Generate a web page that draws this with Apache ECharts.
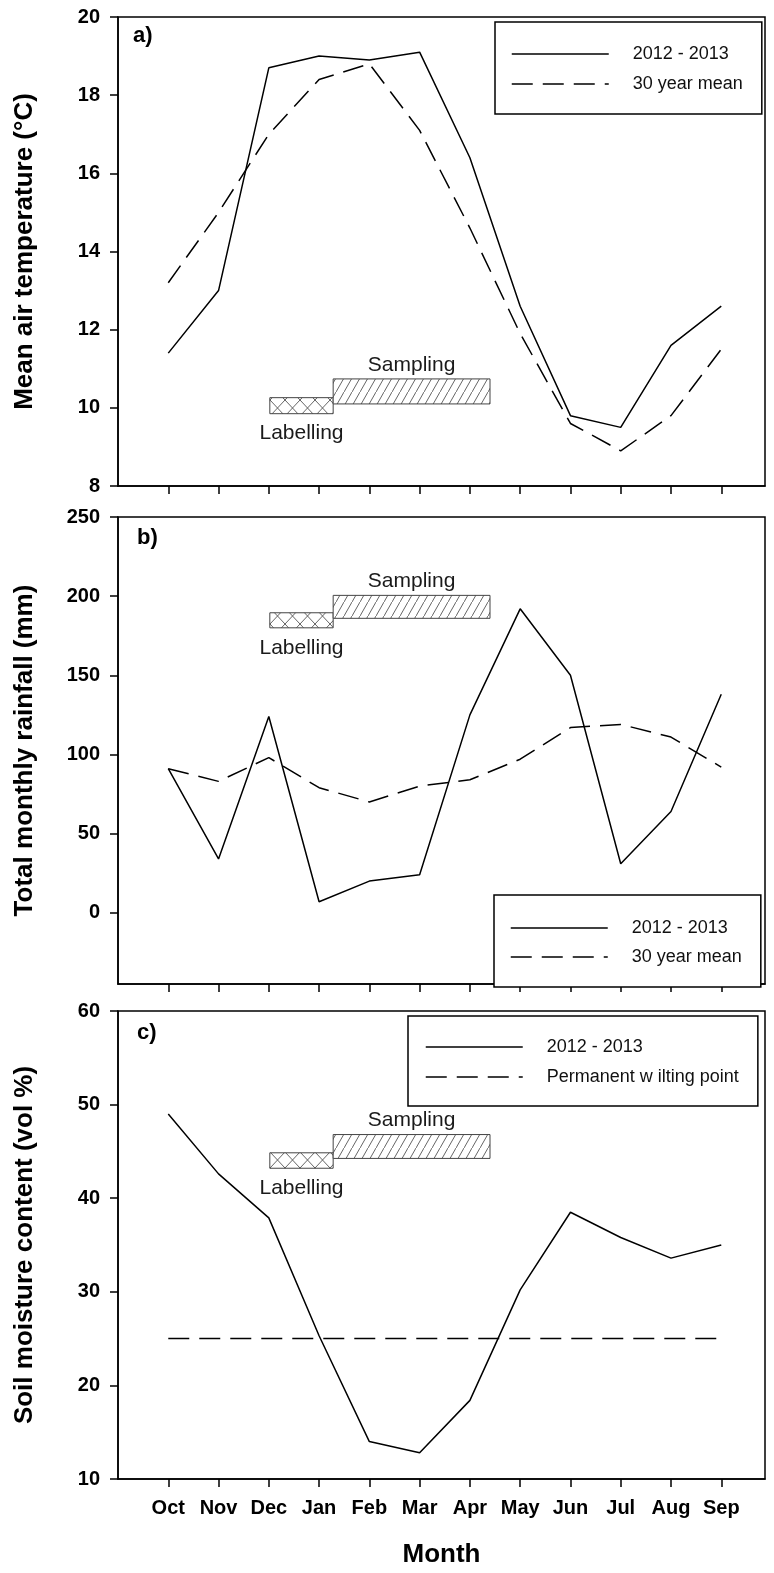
<!DOCTYPE html>
<html>
<head>
<meta charset="utf-8">
<title>Climate and soil moisture 2012 - 2013</title>
<script src="https://cdn.jsdelivr.net/npm/echarts@6/dist/echarts.min.js"></script>
<style>
  html, body { margin: 0; padding: 0; background: #fff; }
  #chart { width: 774px; height: 1573px; }
</style>
</head>
<body>
<div id="chart"></div>
<script>
// Month categories and their positions on the shared x scale
const months = ['Oct', 'Nov', 'Dec', 'Jan', 'Feb', 'Mar', 'Apr', 'May', 'Jun', 'Jul', 'Aug', 'Sep'];
const monthPos = [1, 2, 3, 4, 5, 6, 7, 8, 9, 10, 11, 12];

// a) Mean air temperature (°C)
const temp2012 = [11.4, 13.0, 18.7, 19.0, 18.9, 19.1, 16.4, 12.6, 9.8, 9.5, 11.6, 12.6];
const temp30yr = [13.2, 15.0, 17.0, 18.4, 18.8, 17.1, 14.6, 11.9, 9.6, 8.9, 9.8, 11.5];

// b) Total monthly rainfall (mm)
const rain2012 = [91, 34, 124, 7, 20, 24, 125, 192, 150, 31, 64, 138];
const rain30yr = [91, 83, 98, 79, 70, 80, 84, 97, 117, 119, 111, 92];

// c) Soil moisture content (vol %)
const soil2012 = [49.0, 42.6, 37.9, 25.3, 14.0, 12.8, 18.4, 30.2, 38.5, 35.8, 33.6, 35.0];
const wiltingPoint = [25, 25, 25, 25, 25, 25, 25, 25, 25, 25, 25, 25];

// Tick values
const tempTicks = [8, 10, 12, 14, 16, 18, 20];
const rainTicks = [0, 50, 100, 150, 200, 250];
const soilTicks = [10, 20, 30, 40, 50, 60];

// Labelling / sampling periods (x span in month positions, y span in each panel's units)
const labellingSpan = [3.02, 4.28];
const samplingSpan = [4.28, 7.40];
const tempLabellingBand = [9.85, 10.26];
const tempSamplingBand = [10.10, 10.74];
const rainLabellingBand = [180, 189.5];
const rainSamplingBand = [186, 200.5];
const soilLabellingBand = [43.2, 44.85];
const soilSamplingBand = [44.25, 46.8];

const FONT = "'Liberation Sans', Arial, sans-serif";

function hatchCanvas(w, h, draw) {
  const c = document.createElement('canvas');
  c.width = w; c.height = h;
  const ctx = c.getContext('2d');
  ctx.fillStyle = '#fff';
  ctx.fillRect(0, 0, w, h);
  ctx.strokeStyle = '#555';
  ctx.lineWidth = 0.9;
  draw(ctx, w, h);
  return c;
}
// forward diagonal hatch for sampling
const diagTile = hatchCanvas(8, 14, (ctx, w, h) => {
  ctx.beginPath();
  ctx.moveTo(-1, h + h / w); ctx.lineTo(w + 1, -h / w);
  ctx.stroke();
});
// cross hatch for labelling
const crossTile = hatchCanvas(15, 16, (ctx, w, h) => {
  ctx.beginPath();
  ctx.moveTo(-1, -h / w); ctx.lineTo(w + 1, h + h / w);
  ctx.moveTo(w + 1, -h / w); ctx.lineTo(-1, h + h / w);
  ctx.stroke();
});
const diagFill = { image: diagTile, repeat: 'repeat' };
const crossFill = { image: crossTile, repeat: 'repeat' };

const pair = (vals) => vals.map((v, i) => [monthPos[i], v]);

function periodSeries(idx, span, band, fill, text, above) {
  return {
    type: 'custom',
    xAxisIndex: idx,
    yAxisIndex: idx,
    silent: true,
    z: 4,
    encode: { x: [0, 1], y: [2, 3] },
    data: [[span[0], span[1], band[0], band[1]]],
    renderItem: function (params, api) {
      const tl = api.coord([api.value(0), api.value(3)]);
      const br = api.coord([api.value(1), api.value(2)]);
      const cx = (tl[0] + br[0]) / 2;
      return {
        type: 'group',
        children: [
          {
            type: 'rect',
            shape: { x: tl[0], y: tl[1], width: br[0] - tl[0], height: br[1] - tl[1] },
            style: { fill: fill, stroke: '#444', lineWidth: 1 }
          },
          {
            type: 'text',
            style: {
              text: text,
              x: cx,
              y: above ? tl[1] - 14 : br[1] + 20,
              align: 'center',
              verticalAlign: 'middle',
              font: '21px ' + FONT,
              fill: '#1a1a1a'
            }
          }
        ]
      };
    }
  };
}

function lineSeries(idx, name, vals, dashed) {
  return {
    type: 'line',
    name: name,
    xAxisIndex: idx,
    yAxisIndex: idx,
    data: pair(vals),
    symbol: 'none',
    silent: true,
    z: 3,
    lineStyle: { color: '#000', width: 1.5, type: dashed ? [21, 10] : 'solid' },
    itemStyle: { color: '#000' }
  };
}

const grids = [
  { left: 118, right: 9, top: 17, height: 469 },
  { left: 118, right: 9, top: 517, height: 467 },
  { left: 118, right: 9, top: 1011, height: 468 }
].map(g => Object.assign(g, { show: true, borderColor: '#000', borderWidth: 1.5, backgroundColor: 'transparent' }));

function xAxis(idx, withLabels) {
  return {
    type: 'value',
    gridIndex: idx,
    min: 0,
    max: 12.87,
    splitLine: { show: false },
    axisLine: { show: true, onZero: false, lineStyle: { color: '#000', width: 1.5 } },
    axisTick: { show: true, inside: false, length: 8, customValues: monthPos, lineStyle: { color: '#000', width: 1.5 } },
    axisLabel: {
      show: withLabels,
      customValues: monthPos,
      margin: 19,
      formatter: v => months[monthPos.indexOf(v)] || '',
      fontFamily: FONT, fontWeight: 'bold', fontSize: 20, color: '#000'
    },
    name: withLabels ? 'Month' : '',
    nameLocation: 'middle',
    nameGap: 63,
    nameTextStyle: { fontFamily: FONT, fontWeight: 'bold', fontSize: 26, color: '#000' }
  };
}

function yAxis(idx, name, min, max, ticks) {
  return {
    type: 'value',
    gridIndex: idx,
    min: min,
    max: max,
    splitLine: { show: false },
    axisLine: { show: true, onZero: false, lineStyle: { color: '#000', width: 1.5 } },
    axisTick: { show: true, inside: false, length: 8, customValues: ticks, lineStyle: { color: '#000', width: 1.5 } },
    axisLabel: {
      customValues: ticks,
      margin: 18,
      fontFamily: FONT, fontWeight: 'bold', fontSize: 20, color: '#000'
    },
    name: name,
    nameLocation: 'middle',
    nameGap: 80,
    nameTextStyle: { fontFamily: FONT, fontWeight: 'bold', fontSize: 26, color: '#000' }
  };
}

function legend(names, left, top, padding, gap) {
  return {
    data: names,
    orient: 'vertical',
    left: left,
    top: top,
    padding: padding,
    itemWidth: 97,
    itemHeight: 14,
    itemGap: gap,
    selectedMode: false,
    borderColor: '#000',
    borderWidth: 1.5,
    backgroundColor: '#fff',
    itemStyle: { opacity: 0 },
    lineStyle: { width: 1.5, color: '#000' },
    textStyle: { fontFamily: FONT, fontSize: 18, color: '#111', padding: [0, 0, 0, 19] }
  };
}

const panelTag = (text, left, top) => ({
  text: text, left: left, top: top, padding: 0,
  textStyle: { fontFamily: FONT, fontWeight: 'bold', fontSize: 22, color: '#000' }
});

const option = {
  animation: false,
  backgroundColor: '#fff',
  grid: grids,
  title: [panelTag('a)', 133, 25), panelTag('b)', 137, 527), panelTag('c)', 137, 1022)],
  legend: [
    legend(['2012 - 2013', '30 year mean'], 495, 22, [23, 19, 21, 16], 12),
    legend(['2012 - 2013', '30 year mean'], 494, 895, [24, 19, 21, 16], 11),
    legend(['2012 - 2013', 'Permanent w ilting point'], 408, 1016, [22, 19, 20, 17], 12)
  ],
  xAxis: [xAxis(0, false), xAxis(1, false), xAxis(2, true)],
  yAxis: [
    yAxis(0, 'Mean air temperature (°C)', 8, 20, tempTicks),
    yAxis(1, 'Total monthly rainfall (mm)', -45, 250, rainTicks),
    yAxis(2, 'Soil moisture content (vol %)', 10, 60, soilTicks)
  ],
  series: [
    lineSeries(0, '2012 - 2013', temp2012, false),
    lineSeries(0, '30 year mean', temp30yr, true),
    periodSeries(0, labellingSpan, tempLabellingBand, crossFill, 'Labelling', false),
    periodSeries(0, samplingSpan, tempSamplingBand, diagFill, 'Sampling', true),

    lineSeries(1, '2012 - 2013', rain2012, false),
    lineSeries(1, '30 year mean', rain30yr, true),
    periodSeries(1, labellingSpan, rainLabellingBand, crossFill, 'Labelling', false),
    periodSeries(1, samplingSpan, rainSamplingBand, diagFill, 'Sampling', true),

    lineSeries(2, '2012 - 2013', soil2012, false),
    lineSeries(2, 'Permanent w ilting point', wiltingPoint, true),
    periodSeries(2, labellingSpan, soilLabellingBand, crossFill, 'Labelling', false),
    periodSeries(2, samplingSpan, soilSamplingBand, diagFill, 'Sampling', true)
  ]
};

const chart = echarts.init(document.getElementById('chart'), null, { renderer: 'canvas' });
chart.setOption(option);
</script>
</body>
</html>
